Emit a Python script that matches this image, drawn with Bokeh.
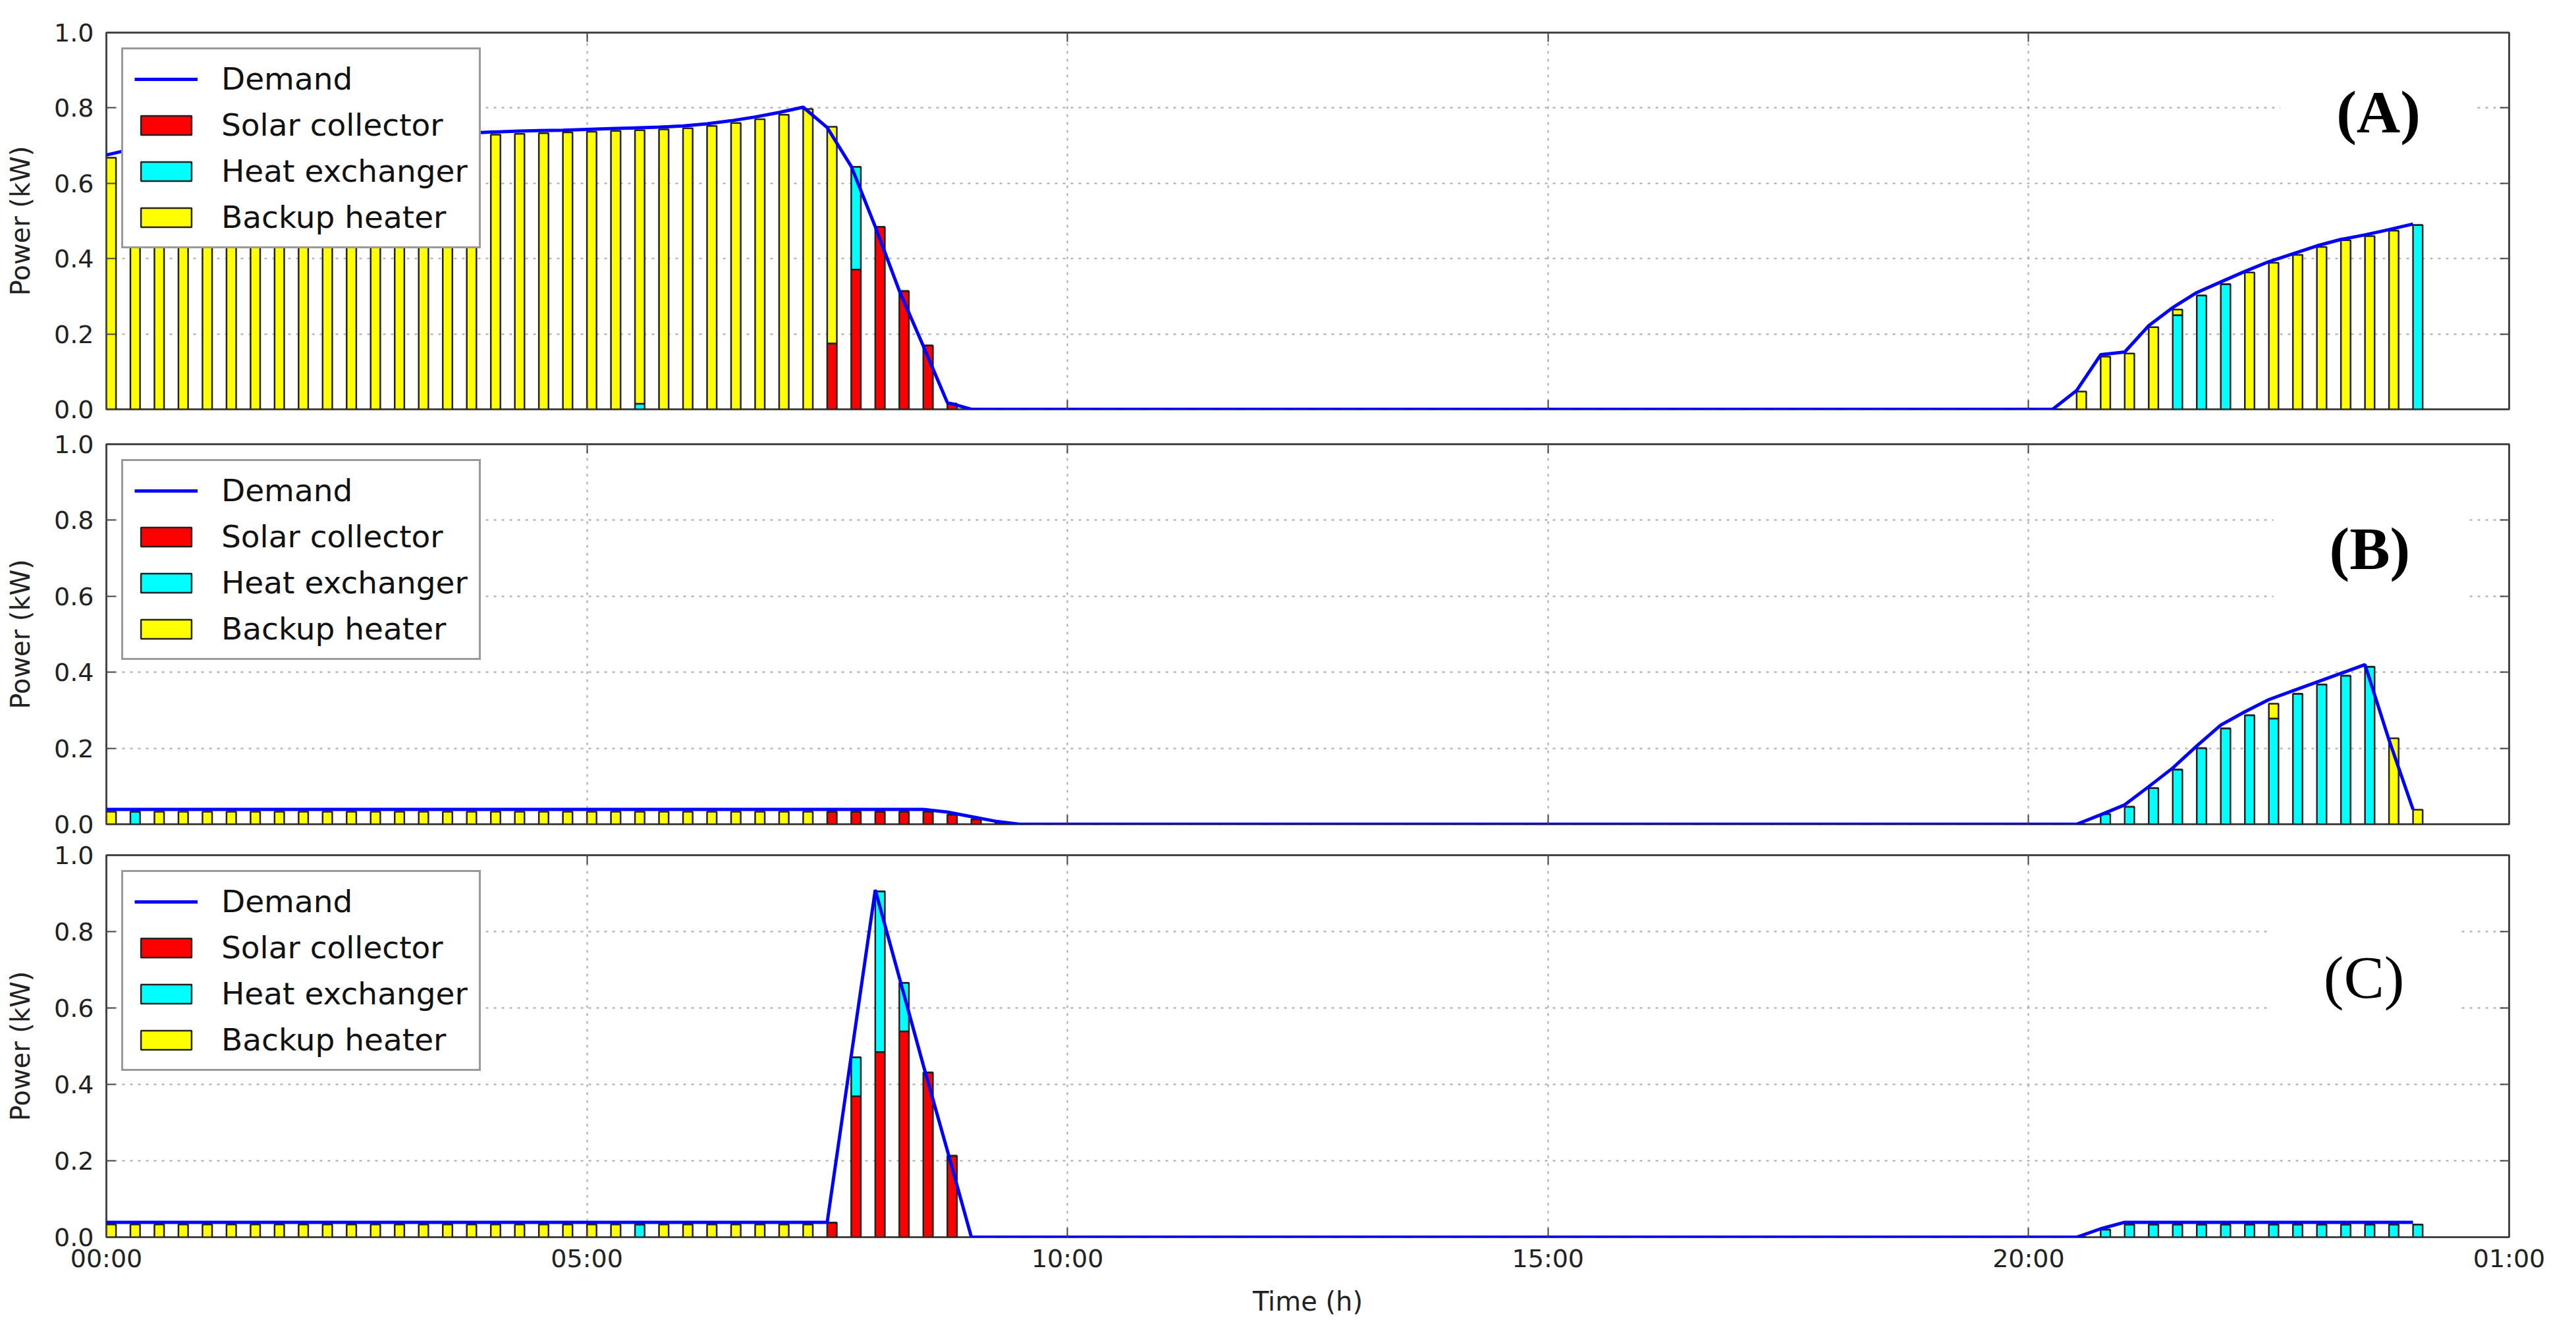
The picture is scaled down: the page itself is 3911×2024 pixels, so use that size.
from bokeh.plotting import figure
from bokeh.models import (ColumnDataSource, Legend, LegendItem, Label, FixedTicker,
                          LinearAxis, Range1d, NumeralTickFormatter, CustomLabelingPolicy)
from bokeh.layouts import column
from bokeh.embed import file_html
from bokeh.resources import INLINE

# ---------------- data ----------------
STEP_H = 0.25          # 15-minute time step
N_STEPS = 97           # 00:00 ... 24:00
time_h = [i * STEP_H for i in range(N_STEPS)]

x_ticks = [0, 5, 10, 15, 20, 25]
x_tick_labels = ["00:00", "05:00", "10:00", "15:00", "20:00", "01:00"]
y_ticks = [0.0, 0.2, 0.4, 0.6, 0.8, 1.0]

series_names = ["Demand", "Solar collector", "Heat exchanger", "Backup heater"]
panel_names = ["(A)", "(B)", "(C)"]

# Panel A  (morning: 00:00-09:30, middle zeros, evening: 20:30-24:00)
demand_a = ([0.675, 0.69, 0.70, 0.708, 0.714, 0.718, 0.721, 0.723, 0.725, 0.727,
             0.728, 0.729, 0.730, 0.731, 0.732, 0.733, 0.736, 0.738, 0.740, 0.741,
             0.743, 0.745, 0.747, 0.749, 0.752, 0.758, 0.766, 0.776, 0.788, 0.802,
             0.748, 0.645, 0.485, 0.315, 0.168, 0.018, 0.0, 0.0, 0.0]
            + [0.0] * 43
            + [0.05, 0.145, 0.152, 0.222, 0.27, 0.31, 0.338, 0.366, 0.392, 0.413,
               0.434, 0.451, 0.463, 0.477, 0.492])
solar_a = ([0.0] * 30 + [0.175, 0.371, 0.484, 0.314, 0.169, 0.015, 0.0, 0.0, 0.0]
           + [0.0] * 43 + [0.0] * 15)
hx_a = ([0.0] * 22 + [0.015] + [0.0] * 8 + [0.273] + [0.0] * 7
        + [0.0] * 43
        + [0.0, 0.0, 0.0, 0.0, 0.25, 0.302, 0.332, 0.0, 0.0, 0.0, 0.0, 0.0, 0.0, 0.0, 0.489])
backup_a = ([0.668, 0.683, 0.693, 0.701, 0.707, 0.711, 0.714, 0.716, 0.718, 0.720,
             0.721, 0.722, 0.723, 0.724, 0.725, 0.726, 0.729, 0.731, 0.733, 0.735,
             0.737, 0.739, 0.726, 0.743, 0.746, 0.752, 0.760, 0.770, 0.782, 0.797,
             0.575, 0.0, 0.0, 0.0, 0.0, 0.0, 0.0, 0.0, 0.0]
            + [0.0] * 43
            + [0.047, 0.14, 0.148, 0.218, 0.015, 0.0, 0.0, 0.363, 0.389, 0.41,
               0.431, 0.449, 0.46, 0.474, 0.0])

# Panel B
demand_b = ([0.039] * 35 + [0.032, 0.02, 0.008, 0.0]
            + [0.0] * 43
            + [0.0, 0.025, 0.051, 0.099, 0.148, 0.206, 0.261, 0.296, 0.328, 0.351,
               0.374, 0.397, 0.42, 0.222, 0.039])
solar_b = ([0.0] * 30 + [0.033, 0.033, 0.033, 0.033, 0.033, 0.025, 0.013, 0.004, 0.0]
           + [0.0] * 43 + [0.0] * 15)
hx_b = ([0.0, 0.033] + [0.0] * 37
        + [0.0] * 43
        + [0.0, 0.027, 0.046, 0.095, 0.144, 0.20, 0.252, 0.287, 0.278, 0.343,
           0.368, 0.391, 0.414, 0.0, 0.0])
backup_b = ([0.033, 0.0] + [0.033] * 28 + [0.0] * 9
            + [0.0] * 43
            + [0.0, 0.0, 0.0, 0.0, 0.0, 0.0, 0.0, 0.0, 0.039, 0.0, 0.0, 0.0, 0.0, 0.226, 0.038])

# Panel C
demand_c = ([0.039] * 31 + [0.475, 0.909, 0.68, 0.45, 0.227, 0.0, 0.0, 0.0]
            + [0.0] * 43
            + [0.0, 0.022] + [0.039] * 13)
solar_c = ([0.0] * 30 + [0.038, 0.369, 0.485, 0.539, 0.431, 0.213, 0.0, 0.0, 0.0]
           + [0.0] * 43 + [0.0] * 15)
hx_c = ([0.0] * 22 + [0.033] + [0.0] * 8 + [0.102, 0.42, 0.127] + [0.0] * 5
        + [0.0] * 43
        + [0.0, 0.02] + [0.033] * 13)
backup_c = ([0.033] * 22 + [0.0] + [0.033] * 7 + [0.0] * 9
            + [0.0] * 43 + [0.0] * 15)

# ---------------- style ----------------
BAR_W = 0.1
COL_SOLAR = "#ff0000"
COL_HX = "#00ffff"
COL_BACKUP = "#ffff00"
COL_DEMAND = "#0000ff"
FIG_W = 3890
TICK_FONT = "DejaVu Sans"


def no_labels():
    return CustomLabelingPolicy(code="return new Set()")


def tick_only_axis(ticks):
    return LinearAxis(ticker=FixedTicker(ticks=ticks), major_label_policy=no_labels(),
                      major_label_text_font_size="10px", major_label_standoff=0,
                      axis_line_color=None, major_tick_in=14, major_tick_out=0,
                      major_tick_line_color="#444444", major_tick_line_width=2,
                      minor_tick_line_color=None)


def make_panel(demand, solar, hx, backup, tag, tag_bold, tag_pos, height,
               borders, show_x_labels):
    src = ColumnDataSource(dict(
        t=time_h,
        xc=[t + BAR_W / 2 for t in time_h],
        demand=demand, solar=solar, hx=hx, backup=backup))
    bl, br, bt, bb = borders
    p = figure(width=FIG_W, height=height, x_range=Range1d(0, 25), y_range=Range1d(0, 1),
               output_backend="svg", toolbar_location=None,
               x_axis_location="below" if show_x_labels else None,
               min_border_left=bl, min_border_right=br,
               min_border_top=bt, min_border_bottom=bb)
    p.background_fill_color = "white"
    p.border_fill_color = "white"
    p.outline_line_color = "#444444"
    p.outline_line_width = 3

    # grids
    for g in (p.xgrid, p.ygrid):
        g.grid_line_color = "#a8a8a8"
        g.grid_line_width = 2
        g.grid_line_dash = "4 8"
    p.xgrid.ticker = FixedTicker(ticks=x_ticks)
    p.ygrid.ticker = FixedTicker(ticks=y_ticks)

    # axes
    ya = p.yaxis[0]
    ya.ticker = FixedTicker(ticks=y_ticks)
    ya.formatter = NumeralTickFormatter(format="0.0")
    ya.axis_label = "Power (kW)"
    ya.axis_label_text_font = TICK_FONT
    ya.axis_label_text_font_size = "40px"
    ya.axis_label_text_font_style = "normal"
    ya.axis_label_text_color = "#222222"
    ya.axis_label_standoff = 25
    ya.major_label_standoff = 19
    axes = [ya]
    if show_x_labels:
        xa = p.xaxis[0]
        xa.ticker = FixedTicker(ticks=x_ticks)
        xa.major_label_overrides = {k: v for k, v in zip(x_ticks, x_tick_labels)}
        xa.axis_label = "Time (h)"
        xa.axis_label_text_font = TICK_FONT
        xa.axis_label_text_font_size = "40px"
        xa.axis_label_text_font_style = "normal"
        xa.axis_label_text_color = "#222222"
        xa.axis_label_standoff = 17
        xa.major_label_standoff = 10
        axes.append(xa)
    else:
        p.add_layout(tick_only_axis(x_ticks), "below")
    for ax in axes:
        ax.axis_line_color = None
        ax.major_tick_in = 14
        ax.major_tick_out = 0
        ax.major_tick_line_color = "#444444"
        ax.major_tick_line_width = 2
        ax.minor_tick_line_color = None
        ax.major_label_text_font = TICK_FONT
        ax.major_label_text_font_size = "38px"
        ax.major_label_text_color = "#222222"

    # mirrored tick marks on right and top
    p.add_layout(tick_only_axis(y_ticks), "right")
    p.add_layout(tick_only_axis(x_ticks), "above")

    bars = p.vbar_stack(["solar", "hx", "backup"], x="xc", width=BAR_W, source=src,
                        fill_color=[COL_SOLAR, COL_HX, COL_BACKUP],
                        line_color="#222222", line_width=2.5)
    ln = p.line("t", "demand", source=src, line_color=COL_DEMAND, line_width=5)

    legend = Legend(items=[
        LegendItem(label=series_names[0], renderers=[ln]),
        LegendItem(label=series_names[1], renderers=[bars[0]]),
        LegendItem(label=series_names[2], renderers=[bars[1]]),
        LegendItem(label=series_names[3], renderers=[bars[2]]),
    ], location="top_left")
    legend.margin = 23
    legend.padding = 17
    legend.spacing = 15
    legend.glyph_width = 96
    legend.glyph_height = 36
    legend.label_standoff = 36
    legend.label_text_font = TICK_FONT
    legend.label_text_font_size = "47px"
    legend.label_text_color = "#111111"
    legend.border_line_color = "#333333"
    legend.border_line_width = 3
    legend.background_fill_alpha = 1.0
    p.add_layout(legend)

    lab = Label(x=tag_pos[0], y=tag_pos[1], text=tag, text_font="Liberation Serif",
                text_font_style="bold" if tag_bold else "normal",
                text_font_size="92px", text_align="center", text_baseline="middle",
                text_color="black", background_fill_color="white",
                padding=dict(left=85, right=85, top=40, bottom=40))
    p.add_layout(lab)
    return p


pA = make_panel(demand_a, solar_a, hx_a, backup_a, panel_names[0], True, (23.64, 0.79),
                647, (161, 81, 49, 26), False)
pB = make_panel(demand_b, solar_b, hx_b, backup_b, panel_names[1], True, (23.55, 0.726),
                628, (159, 70, 27, 24), False)
pC = make_panel(demand_c, solar_c, hx_c, backup_c, panel_names[2], False, (23.49, 0.68),
                731, (154, 70, 23, 128), True)

layout = column(pA, pB, pC, spacing=0)
open("out.html", "w").write(file_html(layout, INLINE))
